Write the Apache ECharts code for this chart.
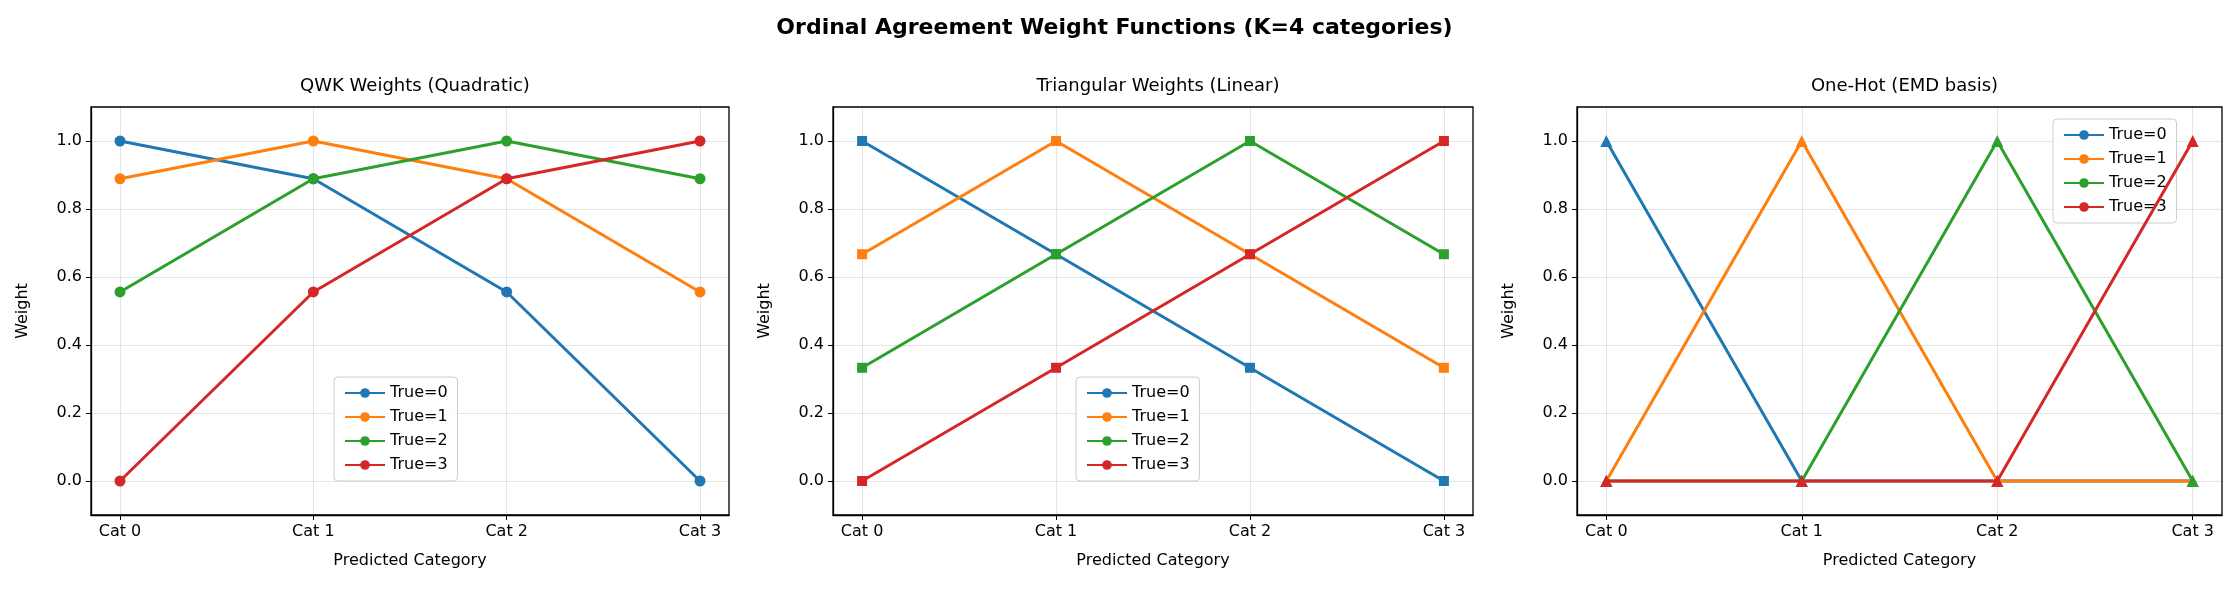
<!DOCTYPE html>
<html><head><meta charset="utf-8">
<script src="https://cdn.jsdelivr.net/npm/echarts@6/dist/echarts.min.js"></script>
<style>html,body{margin:0;background:#fff}#c{width:2229px;height:593px}</style>
</head><body><div id="c"></div>
<script>
const categories = ["Cat 0", "Cat 1", "Cat 2", "Cat 3"];
const seriesNames = ["True=0", "True=1", "True=2", "True=3"];
const colors = ["#1f77b4", "#ff7f0e", "#2ca02c", "#d62728"];
const yTicks = [0, 0.2, 0.4, 0.6, 0.8, 1.0];
const qwk = [
  [1.0, 0.889, 0.556, 0.0],
  [0.889, 1.0, 0.889, 0.556],
  [0.556, 0.889, 1.0, 0.889],
  [0.0, 0.556, 0.889, 1.0]
];
const triangular = [
  [1.0, 0.667, 0.333, 0.0],
  [0.667, 1.0, 0.667, 0.333],
  [0.333, 0.667, 1.0, 0.667],
  [0.0, 0.333, 0.667, 1.0]
];
const oneHot = [
  [1, 0, 0, 0],
  [0, 1, 0, 0],
  [0, 0, 1, 0],
  [0, 0, 0, 1]
];

const panels = [
  { title: "QWK Weights (Quadratic)", data: qwk, symbol: "circle", size: 11, left: 91, right: 729,
    legend: { left: 334, top: 377 } },
  { title: "Triangular Weights (Linear)", data: triangular, symbol: "rect", size: 10, left: 833, right: 1473,
    legend: { left: 1076, top: 377 } },
  { title: "One-Hot (EMD basis)", data: oneHot, symbol: "triangle", size: 12, left: 1577, right: 2222,
    legend: { left: 2053, top: 119 } }
];
const TOP = 107, BOTTOM = 515;
const font = "DejaVu Sans";

const grid = [], xAxis = [], yAxis = [], series = [], legend = [], title = [];
title.push({ text: "Ordinal Agreement Weight Functions (K=4 categories)", left: "center", top: 12,
  textStyle: { fontFamily: font, fontSize: 22, fontWeight: "bold", color: "#000" } });

panels.forEach((p, pi) => {
  grid.push({ left: p.left, width: p.right - p.left, top: TOP, height: BOTTOM - TOP,
    show: true, borderColor: "#000", borderWidth: 1.3, backgroundColor: "transparent" });
  title.push({ text: p.title, left: (p.left + p.right) / 2, textAlign: "center", top: 72,
    textStyle: { fontFamily: font, fontSize: 18, fontWeight: "normal", color: "#000" } });
  xAxis.push({
    type: "value", gridIndex: pi, min: -0.15, max: 3.15,
    name: "Predicted Category", nameLocation: "middle", nameGap: 38,
    nameTextStyle: { fontFamily: font, fontSize: 16, color: "#000" },
    axisLine: { show: true, onZero: false, lineStyle: { color: "#000", width: 1.3 } },
    axisTick: { show: true, inside: false, length: 5, customValues: [0, 1, 2, 3], lineStyle: { color: "#000" } },
    axisLabel: { customValues: [0, 1, 2, 3], formatter: v => categories[Math.round(v)],
      fontFamily: font, fontSize: 16, color: "#000", margin: 9 },
    splitLine: { show: true, lineStyle: { color: "rgba(0,0,0,0.1)", width: 1 } }
  });
  yAxis.push({
    type: "value", gridIndex: pi, min: -0.1, max: 1.1,
    name: "Weight", nameLocation: "middle", nameGap: 60, nameRotate: 90,
    nameTextStyle: { fontFamily: font, fontSize: 16, color: "#000" },
    axisLine: { show: true, onZero: false, lineStyle: { color: "#000", width: 1.3 } },
    axisTick: { show: true, inside: false, length: 5, customValues: yTicks, lineStyle: { color: "#000" } },
    axisLabel: { customValues: yTicks, formatter: v => v.toFixed(1),
      fontFamily: font, fontSize: 16, color: "#000", margin: 9 },
    splitLine: { show: true, lineStyle: { color: "rgba(0,0,0,0.1)", width: 1 } }
  });
  p.data.forEach((row, si) => {
    series.push({
      type: "line", name: seriesNames[si], xAxisIndex: pi, yAxisIndex: pi,
      data: row.map((v, i) => [i, v]),
      symbol: p.symbol, symbolSize: p.size, showSymbol: true,
      lineStyle: { color: colors[si], width: 3 }, itemStyle: { color: colors[si] },
      z: 2 + si
    });
  });
  legend.push({
    left: p.legend.left, top: p.legend.top, orient: "vertical", itemGap: 8,
    itemWidth: 40, itemHeight: 12, padding: [8, 10, 8, 10],
    backgroundColor: "rgba(255,255,255,0.8)", borderColor: "#ccc", borderWidth: 1, borderRadius: 4,
    textStyle: { fontFamily: font, fontSize: 16, color: "#000" },
    data: seriesNames.slice(),
    selectedMode: false
  });
});

const chart = echarts.init(document.getElementById("c"), null, { renderer: "canvas" });
chart.setOption({ animation: false, title, grid, xAxis, yAxis, series, legend });
</script></body></html>
